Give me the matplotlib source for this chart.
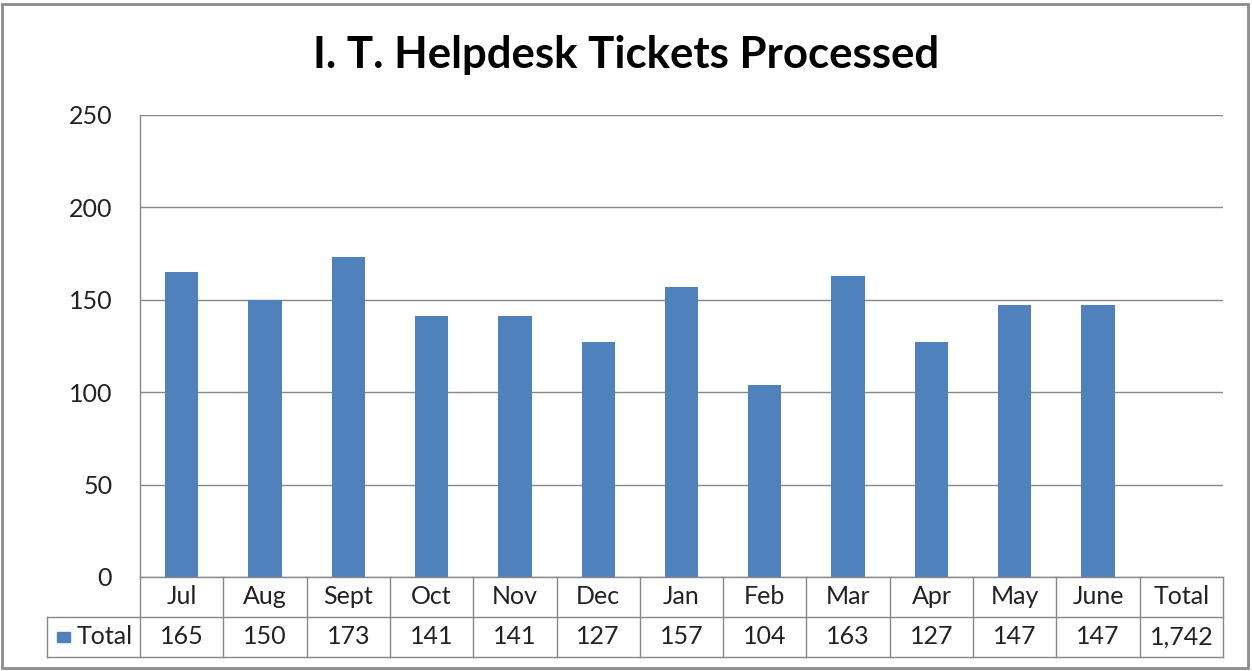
import matplotlib
matplotlib.use("Agg")
import matplotlib.pyplot as plt
from matplotlib.patches import Rectangle

months = ["Jul", "Aug", "Sept", "Oct", "Nov", "Dec", "Jan", "Feb", "Mar", "Apr", "May", "June"]
tickets = [165, 150, 173, 141, 141, 127, 157, 104, 163, 127, 147, 147]
total_label = "Total"
total_value = 1742
y_ticks = [0, 50, 100, 150, 200, 250]

plt.rcParams["font.family"] = ["Lato", "DejaVu Sans"]

W, H = 1252, 671
fig = plt.figure(figsize=(W / 100, H / 100), dpi=100)

bar_color = "#4F81BD"
line_color = "#878787"

# outer chart frame
fig.patches.append(Rectangle((2 / W, 3 / H), 1246 / W, 664 / H, transform=fig.transFigure,
                             fill=False, edgecolor="#8c8c8c", linewidth=2))

fig.text(626 / W, 1 - 55 / H, "I. T. Helpdesk Tickets Processed", ha="center", va="center",
         fontsize=31.5, fontweight="bold", color="black")

left, right, top, base = 140, 1223, 115, 577
ax = fig.add_axes([left / W, 1 - base / H, (right - left) / W, (base - top) / H])
ncat = len(months) + 1
xs = list(range(len(months)))
ax.bar(xs, tickets, width=0.4, color=bar_color, zorder=3)
ax.set_xlim(-0.5, ncat - 0.5)
ax.set_ylim(0, 250)
ax.set_yticks(y_ticks)
ax.set_yticklabels([str(v) for v in y_ticks], fontsize=18, color="#222222")
ax.tick_params(axis="y", length=0, pad=20)
ax.set_xticks([])
ax.grid(axis="y", color=line_color, linewidth=1, zorder=0)
for s in ["top", "right", "bottom"]:
    ax.spines[s].set_visible(False)
ax.spines["left"].set_color(line_color)
ax.spines["left"].set_linewidth(1)

# data table below the plot
tbl_bottom = 657
tax = fig.add_axes([left / W, 1 - tbl_bottom / H, (right - left) / W, (tbl_bottom - base) / H])
tax.set_xlim(-0.5, ncat - 0.5)
tax.set_ylim(0, 2)
tax.axis("off")
cat_w = (right - left) / ncat
leg_left = -0.5 - (left - 47) / cat_w

kw = dict(color=line_color, linewidth=1, clip_on=False)
tax.plot([-0.5, ncat - 0.5], [2, 2], **kw)
tax.plot([leg_left, ncat - 0.5], [1, 1], **kw)
tax.plot([leg_left, ncat - 0.5], [0, 0], **kw)
tax.plot([leg_left, leg_left], [0, 1], **kw)
for k in range(ncat + 1):
    tax.plot([k - 0.5, k - 0.5], [0, 2], **kw)

labels = months + [total_label]
values = [str(v) for v in tickets] + [f"{total_value:,}"]
for i, (lab, val) in enumerate(zip(labels, values)):
    tax.text(i, 1.5, lab, ha="center", va="center", fontsize=18, color="#222222")
    tax.text(i, 0.5, val, ha="center", va="center", fontsize=18, color="#222222")

tax.add_patch(Rectangle((leg_left + 0.12, 0.38), 0.16, 0.24, color=bar_color, clip_on=False))
tax.text(leg_left + 0.36, 0.5, "Total", ha="left", va="center", fontsize=18, color="#222222")

fig.savefig("out.png", dpi=100)
